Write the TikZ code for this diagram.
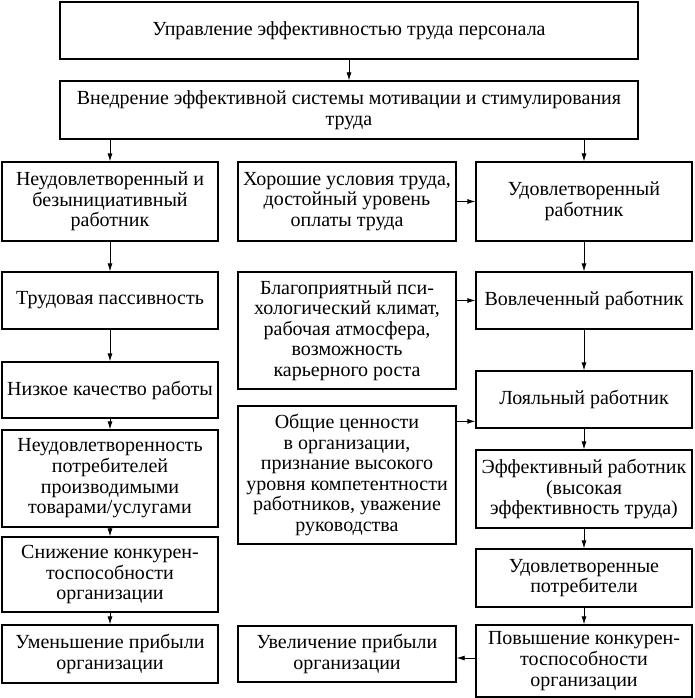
\documentclass[tikz,border=0pt]{standalone}
\usepackage{fontspec}
\setmainfont{Liberation Serif}
\usetikzlibrary{arrows.meta}

\tikzset{
	box/.style={draw, line width=1.3pt, inner sep=0pt, align=center, font=\fontsize{20}{20.6}\selectfont},
	colbox/.style={box, minimum width=216pt},
	midbox/.style={box, minimum width=218pt},
	widebox/.style={box, minimum width=578pt},
	arr/.style={-{Latex[length=8pt, width=5pt]}, line width=0.8pt}
}

\begin{document}
\begin{tikzpicture}[x=1pt, y=-1pt]
		\useasboundingbox (0, 0) rectangle (695, 698);
		
		\node[widebox, minimum height=57pt] (upr) at (349, 30.5) {Управление эффективностью труда персонала};
		\node[widebox, minimum height=58pt] (vnedr) at (349, 110) {Внедрение эффективной системы мотивации и стимулирования\\труда};
		
		% left column
		\node[colbox, minimum height=79pt] (neud) at (110, 201.5) {Неудовлетворенный и\\безынициативный\\работник};
		\node[colbox, minimum height=57pt] (pass) at (110, 300.5) {Трудовая пассивность};
		\node[colbox, minimum height=56pt] (kach) at (110, 390) {Низкое качество работы};
		\node[colbox, minimum height=97pt] (potr) at (110, 478.5) {Неудовлетворенность\\потребителей\\производимыми\\товарами/услугами};
		\node[colbox, minimum height=75pt] (sniz) at (110, 574.5) {Снижение конкурен-\\тоспособности\\организации};
		\node[colbox, minimum height=58pt] (umen) at (110, 654) {Уменьшение прибыли\\организации};
		
		% middle column
		\node[midbox, minimum height=79pt] (usl) at (347, 201.5) {Хорошие условия труда,\\достойный уровень\\оплаты труда};
		\node[midbox, minimum height=117pt] (klim) at (347, 330.5) {Благоприятный пси-\\хологический климат,\\рабочая атмосфера,\\возможность\\карьерного роста};
		\node[midbox, minimum height=138pt] (cenn) at (347, 475) {Общие ценности\\в организации,\\признание высокого\\уровня компетентности\\работников, уважение\\руководства};
		\node[midbox, minimum height=56pt] (uvel) at (347, 654) {Увеличение прибыли\\организации};
		
		% right column
		\node[colbox, minimum height=79pt] (udov) at (584, 201.5) {Удовлетворенный\\работник};
		\node[colbox, minimum height=57pt] (vovl) at (584, 300.5) {Вовлеченный работник};
		\node[colbox, minimum height=57pt] (loyal) at (584, 399.5) {Лояльный работник};
		\node[colbox, minimum height=78pt] (eff) at (584, 489) {Эффективный работник\\(высокая\\эффективность труда)};
		\node[colbox, minimum height=58pt] (udpotr) at (584, 578) {Удовлетворенные\\потребители};
		\node[colbox, minimum height=72pt] (pov) at (584, 661) {Повышение конкурен-\\тоспособности\\организации};
		
		\draw[arr] (upr) -- (vnedr);
		\draw[arr] (vnedr.south -| neud.north) -- (neud);
		\draw[arr] (vnedr.south -| udov.north) -- (udov);
		
		\draw[arr] (neud) -- (pass);
		\draw[arr] (pass) -- (kach);
		\draw[arr] (kach) -- (potr);
		\draw[arr] (potr) -- (sniz);
		\draw[arr] (sniz) -- (umen);
		
		\draw[arr] (udov) -- (vovl);
		\draw[arr] (vovl) -- (loyal);
		\draw[arr] (loyal) -- (eff);
		\draw[arr] (eff) -- (udpotr);
		\draw[arr] (udpotr) -- (pov);
		
		\draw[arr] (usl) -- (udov);
		\draw[arr] (klim.east |- vovl.west) -- (vovl.west);
		\draw[arr] ([yshift=-16pt]cenn.north east) -- ([yshift=-16pt]cenn.north east -| loyal.west);
		\draw[arr] ([yshift=3pt]pov.west) -- ([yshift=3pt]pov.west -| uvel.east);
	\end{tikzpicture}
\end{document}
